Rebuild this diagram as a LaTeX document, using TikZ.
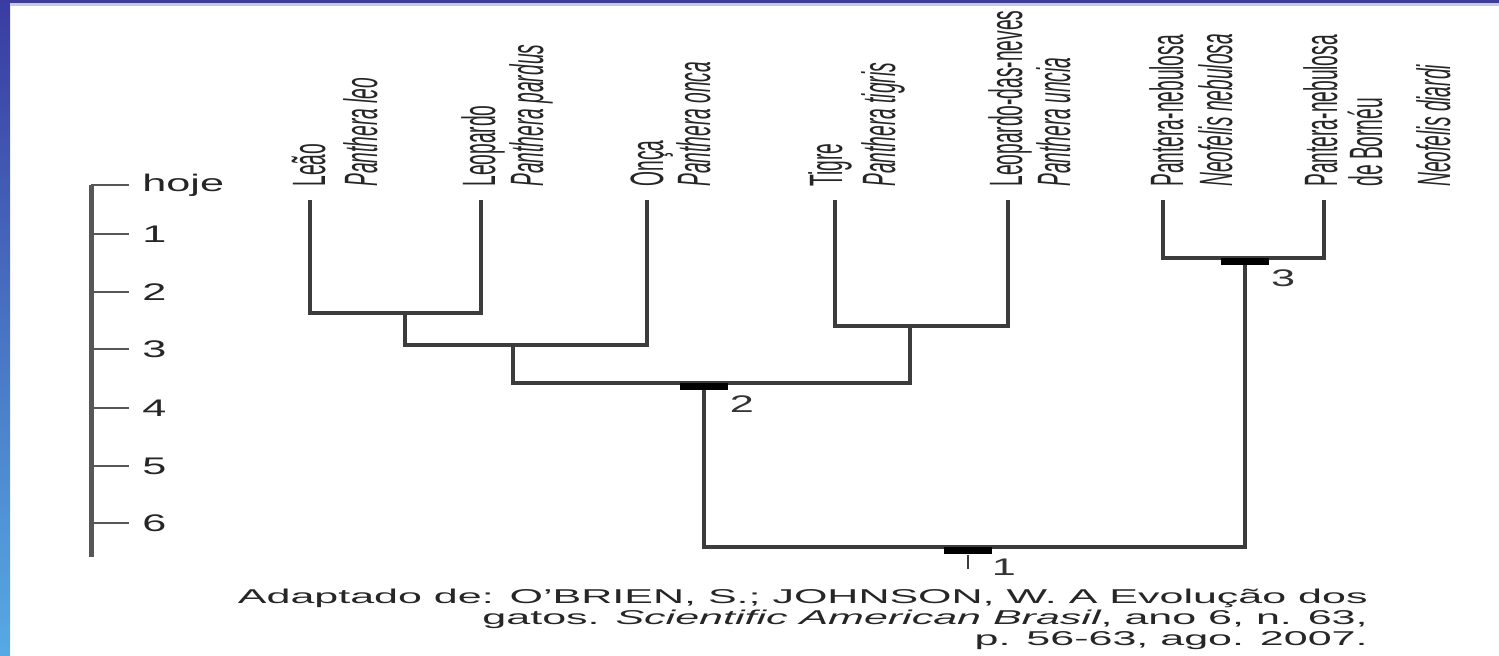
\documentclass[tikz,border=0pt]{standalone}
\usepackage{fontspec}
\setmainfont{Liberation Sans}
\usepackage{graphicx}
\usetikzlibrary{calc,positioning}
\definecolor{framedark}{HTML}{3A3CA2}
\definecolor{framelight}{HTML}{56AAE4}
\definecolor{framelav}{HTML}{C6C6EE}
\definecolor{branchgray}{HTML}{3C3C3C}
\definecolor{axisgray}{HTML}{575757}
\tikzset{>=latex}
\tikzset{font=\fontsize{12}{14}\selectfont}
% horizontal texts are stretched, upright names are squeezed
\newcommand{\wide}[1]{\scalebox{1.8}[1]{#1}}
\newcommand{\widesrc}[1]{\scalebox{2.15}[1]{\fontsize{10}{12}\selectfont #1}}
\newcommand{\squeeze}[1]{\scalebox{0.8}[1.95]{#1}}

\begin{document}
\begin{tikzpicture}[x=0.5pt, y=-0.5pt,
  branch/.style={draw=branchgray, line width=1.6pt},
  taxon/.style={rotate=90, anchor=base west, inner sep=0pt, text=black!85},
  knot/.style={fill=black, minimum width=24pt, minimum height=3.5pt,
    inner sep=0pt, anchor=north},
  knotlabel/.style={inner sep=0pt, text=black!80},
  scalelabel/.style={anchor=west, inner sep=0pt, text=black!85},
  cite/.style={anchor=base east, inner sep=0pt, text=black!85}]
  \useasboundingbox (0,0) rectangle (1499,655);
  % frame
  \fill[white] (0,0) rectangle (1499,655);
  \shade[top color=framedark, bottom color=framelight] (0,0) rectangle (10,655);
  \fill[framedark] (0,0) rectangle (1499,3);
  \fill[framelav] (10,3) rectangle (1499,6);

  % time scale
  \draw[axisgray, line width=2.5pt] (91,185) -- (91,557);
  \foreach \y/\t in {185/hoje, 234/1, 292/2, 349/3, 408/4, 466/5, 523/6} {
    \draw[axisgray, line width=1.4pt] (91,\y) -- (129,\y);
    \node[scalelabel] (s\t) at (142,\y) {\wide{\t}};
  }

  % leaves
  \coordinate (leao) at (310,200);
  \coordinate (leop) at (481,200);
  \coordinate (onca) at (647,200);
  \coordinate (tigre) at (835,200);
  \coordinate (neves) at (1008,200);
  \coordinate (neb) at (1163,200);
  \coordinate (bor) at (1324,200);
  % junctions
  \coordinate (ja) at (405,313);
  \coordinate (jb) at (513,345);
  \coordinate (jc) at (910,326);
  \coordinate (jd) at (704,383);
  \coordinate (je) at (1245,258);
  \coordinate (root) at (968,547);

  \draw[branch] (leao) |- (ja) -| (leop);
  \draw[branch] (ja) |- (jb) -| (onca);
  \draw[branch] (tigre) |- (jc) -| (neves);
  \draw[branch] (jb) |- (jd) -| (jc);
  \draw[branch] (neb) |- (je) -| (bor);
  \draw[branch] (jd) |- (root) -| (je);

  % dated nodes
  \node[knot] (n2) at (jd) {};
  \node[knot] (n3) at (je) {};
  \node[knot] (n1) at (root) {};
  \coordinate[below=7pt of n1.south] (t1);
  \draw[branchgray, line width=1.2pt] (n1.south) -- (t1);
  \node[knotlabel] (l2) at (742,404) {\wide{2}};
  \node[knotlabel] (l3) at (1283,278) {\wide{3}};
  \node[knotlabel] (l1) at (1004,567) {\wide{1}};

  % names
  \node[taxon] (tleao) at (325,187) {\squeeze{Leão}};
  \node[taxon] (sleao) at (377,187) {\squeeze{\itshape Panthera leo}};
  \node[taxon] (tleop) at (495,187) {\squeeze{Leopardo}};
  \node[taxon] (sleop) at (543,187) {\squeeze{\itshape Panthera pardus}};
  \node[taxon] (tonca) at (663,187) {\squeeze{Onça}};
  \node[taxon] (sonca) at (710,187) {\squeeze{\itshape Panthera onca}};
  \node[taxon] (ttigre) at (842,187) {\squeeze{Tigre}};
  \node[taxon] (stigre) at (895,187) {\squeeze{\itshape Panthera tigris}};
  \node[taxon] (tneves) at (1022,187) {\squeeze{Leopardo-das-neves}};
  \node[taxon] (sneves) at (1070,187) {\squeeze{\itshape Panthera uncia}};
  \node[taxon] (tneb) at (1183,187) {\squeeze{Pantera-nebulosa}};
  \node[taxon] (sneb) at (1232,187) {\squeeze{\itshape Neofelis nebulosa}};
  \node[taxon] (tbor) at (1337,187) {\squeeze{Pantera-nebulosa}};
  \node[taxon] (tbor2) at (1382,187) {\squeeze{de Bornéu}};
  \node[taxon] (sbor) at (1450,187) {\squeeze{\itshape Neofelis diardi}};

  % source
  \node[cite] (c1) at (1368,603) {\widesrc{Adaptado de: O'BRIEN, S.; JOHNSON, W. A Evolução dos}};
  \node[cite] (c2) at (1368,624) {\widesrc{gatos. \textit{Scientific American Brasil}, ano 6, n. 63,}};
  \node[cite] (c3) at (1368,645) {\widesrc{p. 56-63, ago. 2007.}};
\end{tikzpicture}
\end{document}
